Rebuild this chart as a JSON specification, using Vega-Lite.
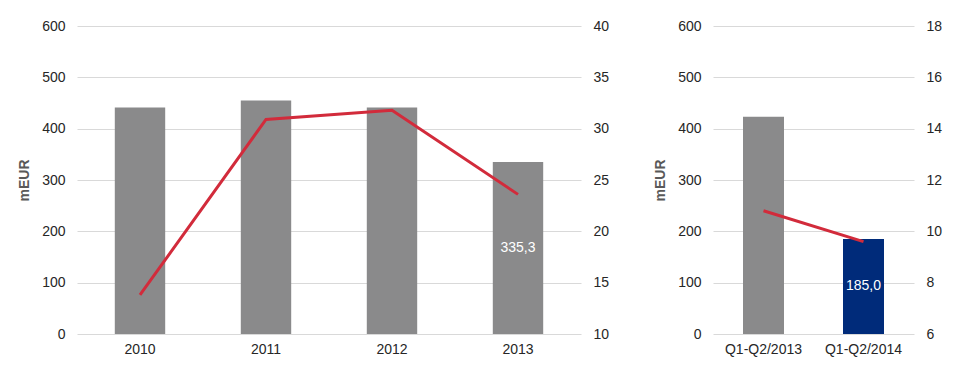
{
  "$schema": "https://vega.github.io/schema/vega-lite/v6.json",
  "padding": {"left": 17, "top": 19, "right": 5, "bottom": 5},
  "background": "white",
  "spacing": 44,
  "datasets": {
    "annual": [
      {"period": "2010", "revenue": 441, "ratio": 13.8},
      {"period": "2011", "revenue": 455, "ratio": 30.9},
      {"period": "2012", "revenue": 441, "ratio": 31.8},
      {"period": "2013", "revenue": 335.3, "ratio": 23.6}
    ],
    "half": [
      {"period": "Q1-Q2/2013", "revenue": 423, "ratio": 10.8},
      {"period": "Q1-Q2/2014", "revenue": 185.0, "ratio": 9.6}
    ]
  },
  "hconcat": [
    {
      "width": 504,
      "height": 308,
      "data": {"name": "annual"},
      "encoding": {
        "x": {"field": "period", "type": "nominal", "sort": null,
          "scale": {"paddingInner": 0.6, "paddingOuter": 0.3},
          "axis": {"title": null, "labelAngle": 0, "grid": false, "labelPadding": 8}}
      },
      "layer": [
        {
          "mark": {"type": "bar", "color": "#8a8a8b"},
          "encoding": {
            "y": {"field": "revenue", "type": "quantitative", "scale": {"domain": [0, 600]},
              "axis": {"title": "mEUR", "values": [0, 100, 200, 300, 400, 500, 600], "grid": true}}
          }
        },
        {
          "transform": [{"filter": "datum.period === '2013'"}],
          "mark": {"type": "text", "color": "white", "fontSize": 14, "baseline": "middle", "dy": 86},
          "encoding": {
            "y": {"field": "revenue", "type": "quantitative", "scale": {"domain": [0, 600]}, "axis": null},
            "text": {"field": "revenue", "type": "quantitative", "format": ".1f"}
          }
        },
        {
          "mark": {"type": "line", "color": "#d22b3b", "strokeWidth": 3},
          "encoding": {
            "y": {"field": "ratio", "type": "quantitative", "scale": {"domain": [10, 40]},
              "axis": {"title": null, "orient": "right", "values": [10, 15, 20, 25, 30, 35, 40], "grid": false}}
          }
        }
      ],
      "resolve": {"scale": {"y": "independent"}}
    },
    {
      "width": 201,
      "height": 308,
      "data": {"name": "half"},
      "encoding": {
        "x": {"field": "period", "type": "nominal", "sort": null,
          "scale": {"paddingInner": 0.59, "paddingOuter": 0.3},
          "axis": {"title": null, "labelAngle": 0, "grid": false, "labelPadding": 8}}
      },
      "layer": [
        {
          "mark": {"type": "bar"},
          "encoding": {
            "y": {"field": "revenue", "type": "quantitative", "scale": {"domain": [0, 600]},
              "axis": {"title": "mEUR", "values": [0, 100, 200, 300, 400, 500, 600], "grid": true}},
            "color": {"condition": {"test": "datum.period === 'Q1-Q2/2014'", "value": "#002b7a"}, "value": "#8a8a8b"}
          }
        },
        {
          "transform": [{"filter": "datum.period === 'Q1-Q2/2014'"}],
          "mark": {"type": "text", "color": "white", "fontSize": 14, "baseline": "middle", "dy": 47},
          "encoding": {
            "y": {"field": "revenue", "type": "quantitative", "scale": {"domain": [0, 600]}, "axis": null},
            "text": {"field": "revenue", "type": "quantitative", "format": ".1f"}
          }
        },
        {
          "mark": {"type": "line", "color": "#d22b3b", "strokeWidth": 3},
          "encoding": {
            "y": {"field": "ratio", "type": "quantitative", "scale": {"domain": [6, 18]},
              "axis": {"title": null, "orient": "right", "values": [6, 8, 10, 12, 14, 16, 18], "grid": false}}
          }
        }
      ],
      "resolve": {"scale": {"y": "independent"}}
    }
  ],
  "config": {
    "font": "Liberation Sans",
    "locale": {"number": {"decimal": ",", "thousands": ".", "grouping": [3], "currency": ["", " €"]}},
    "view": {"stroke": null},
    "axis": {
      "labelFont": "Liberation Sans",
      "labelFontSize": 14,
      "labelColor": "#262626",
      "domain": false,
      "ticks": false,
      "tickSize": 0,
      "labelPadding": 12,
      "titleFont": "Liberation Sans",
      "titleFontSize": 14,
      "titleFontWeight": "bold",
      "titleColor": "#595959",
      "titlePadding": 10,
      "gridColor": "#d9d9d9",
      "gridWidth": 1
    }
  }
}
